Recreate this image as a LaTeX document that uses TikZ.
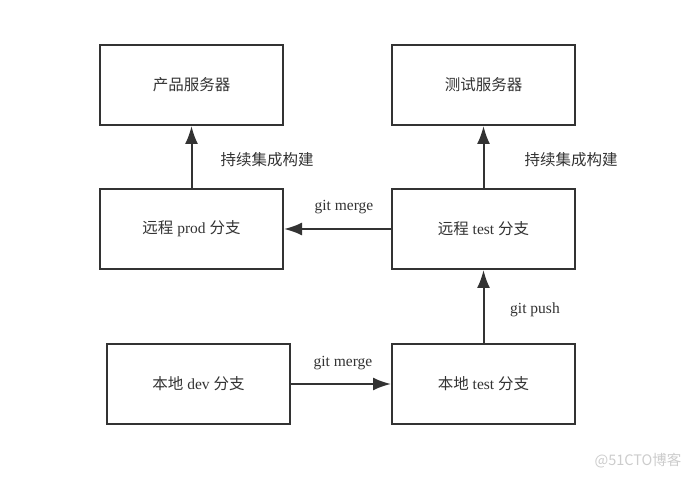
\documentclass[tikz,border=0pt]{standalone}
\usepackage{fontspec}
\setmainfont{Liberation Serif}
\newfontfamily\cjk{Noto Sans CJK SC}
\usetikzlibrary{arrows.meta}
\definecolor{ink}{HTML}{333333}
\begin{document}
\begin{tikzpicture}[x=1pt,y=-1pt,
  box/.style={draw=ink,line width=2pt,minimum width=183pt,minimum height=80pt,inner sep=0pt,text=ink,font=\fontsize{15.5}{18}\selectfont},
  conn/.style={draw=ink,line width=2pt,-{Latex[length=18pt,width=13pt]}},
  lbl/.style={text=ink,font=\fontsize{15.5}{18}\selectfont,inner sep=0pt}]
\useasboundingbox (0,0) rectangle (691,478);
\node[box] (prodsrv) at (191.5,85) {\cjk 产品服务器};
\node[box] (testsrv) at (483.5,85) {\cjk 测试服务器};
\node[box] (rprod) at (191.5,229) {{\cjk 远程} prod {\cjk 分支}};
\node[box] (rtest) at (483.5,229) {{\cjk 远程} test {\cjk 分支}};
\node[box] (ldev) at (198.5,384) {{\cjk 本地} dev {\cjk 分支}};
\node[box] (ltest) at (483.5,384) {{\cjk 本地} test {\cjk 分支}};
\draw[conn] (rprod) -- (prodsrv);
\draw[conn] (rtest) -- (testsrv);
\draw[conn] (rtest) -- (rprod);
\draw[conn] (ltest) -- (rtest);
\draw[conn] (ldev) -- (ltest);
\node[lbl] (l1) at (267,160) {\cjk 持续集成构建};
\node[lbl] (l2) at (571,160) {\cjk 持续集成构建};
\node[lbl] (l3) at (344,207.5) {git merge};
\node[lbl] (l4) at (535,309.5) {git push};
\node[lbl] (l5) at (343,363.5) {git merge};
\node[text=black!20,font=\cjk\fontsize{14.5}{16}\selectfont,inner sep=0pt] (wm) at (638,461) {@51CTO博客};
\end{tikzpicture}
\end{document}
